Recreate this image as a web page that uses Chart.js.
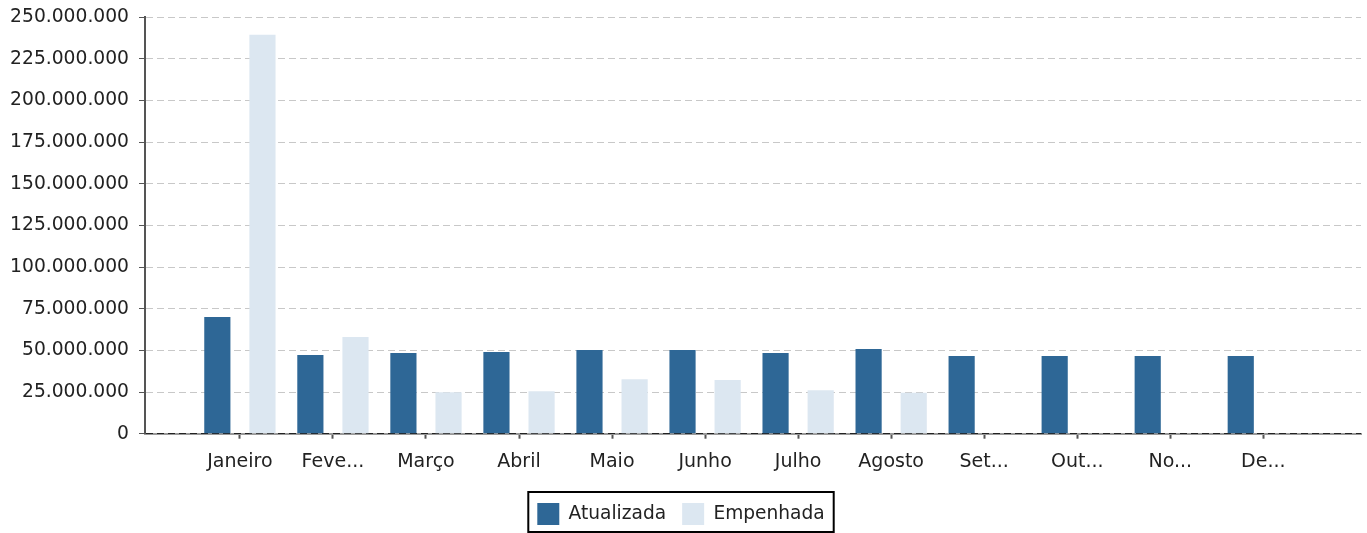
<!DOCTYPE html>
<html>
<head>
<meta charset="utf-8">
<script src="https://cdn.jsdelivr.net/npm/chart.js@4"></script>
<style>
  html, body { margin: 0; padding: 0; background: #fff; }
  #wrap { width: 1367px; height: 533px; }
</style>
</head>
<body>
<div id="wrap"><canvas id="grafico"></canvas></div>
<script>
// dados
const meses = ["Janeiro", "Fevereiro", "Março", "Abril", "Maio", "Junho", "Julho", "Agosto", "Setembro", "Outubro", "Novembro", "Dezembro"];
const rotulos = ["Janeiro", "Feve...", "Março", "Abril", "Maio", "Junho", "Julho", "Agosto", "Set...", "Out...", "No...", "De..."];
const atualizada = [70000000, 47200000, 48400000, 49000000, 50200000, 50200000, 48400000, 50800000, 46600000, 46600000, 46600000, 46600000];
const empenhada = [239300000, 58000000, 24900000, 25500000, 32700000, 32200000, 26100000, 24500000, 0, 0, 0, 0];

function formatar(v) {
  return String(Math.round(v)).replace(/\B(?=(\d{3})+(?!\d))/g, ".");
}

// borda preta em volta da legenda
const bordaLegenda = {
  id: "bordaLegenda",
  afterDraw(chart) {
    const boxes = chart.legend.legendHitBoxes;
    if (!boxes || !boxes.length) return;
    const left = Math.min(...boxes.map(b => b.left)) - 9;
    const right = Math.max(...boxes.map(b => b.left + b.width)) + 9;
    const top = boxes[0].top - 11;
    const bottom = boxes[0].top + boxes[0].height + 7;
    const ctx = chart.ctx;
    ctx.save();
    ctx.lineWidth = 2;
    ctx.strokeStyle = "#000";
    ctx.strokeRect(left, top, right - left, bottom - top);
    ctx.restore();
  }
};

document.addEventListener("DOMContentLoaded", function () {
  Chart.defaults.font.family = "'DejaVu Sans', sans-serif";
  Chart.defaults.font.size = 19;
  Chart.defaults.color = "#222";

  const ctx = document.getElementById("grafico").getContext("2d");
  new Chart(ctx, {
    type: "bar",
    data: {
      labels: meses,
      datasets: [
        { label: "Atualizada", data: atualizada, backgroundColor: "#2e6796" },
        { label: "Empenhada", data: empenhada, backgroundColor: "#dce7f1" }
      ]
    },
    options: {
      responsive: true,
      maintainAspectRatio: false,
      animation: false,
      datasets: { bar: { categoryPercentage: 0.97, barPercentage: 0.58 } },
      layout: { padding: { left: 1, right: 6, top: 17, bottom: -2 } },
      plugins: {
        tooltip: { enabled: false },
        legend: {
          position: "bottom",
          labels: { boxWidth: 22, boxHeight: 22, padding: 16, font: { size: 18.6 }, color: "#222" }
        }
      },
      scales: {
        x: {
          // uma categoria vazia de folga em cada lado
          afterBuildTicks: s => { s._startValue -= 0.52; s._valueRange += 1.07; },
          afterFit: s => { s.height += 2.5; },
          grid: { display: true, offset: false, drawOnChartArea: false, tickLength: 5, tickColor: "#555", tickWidth: 2 },
          border: { display: true, color: "#999", width: 2, z: -1 },
          ticks: {
            padding: 11.5,
            maxRotation: 0,
            autoSkip: false,
            callback: (v, i) => rotulos[i]
          }
        },
        y: {
          min: 0,
          max: 250000000,
          afterFit: s => { s.width = 144; s.paddingTop = 0; s.paddingBottom = 0; },
          grid: {
            display: true,
            color: c => (c.tick && c.tick.value === 0 ? "#222" : "#c8c8c8"),
            lineWidth: 1,
            tickLength: 6,
            tickColor: "#555",
            tickWidth: 1
          },
          border: { display: true, color: "#555", width: 2, dash: [7, 4] },
          ticks: {
            stepSize: 25000000,
            padding: 10,
            font: { size: 18.7 },
            callback: v => formatar(v)
          }
        }
      }
    },
    plugins: [bordaLegenda]
  });
});
</script>
</body>
</html>
